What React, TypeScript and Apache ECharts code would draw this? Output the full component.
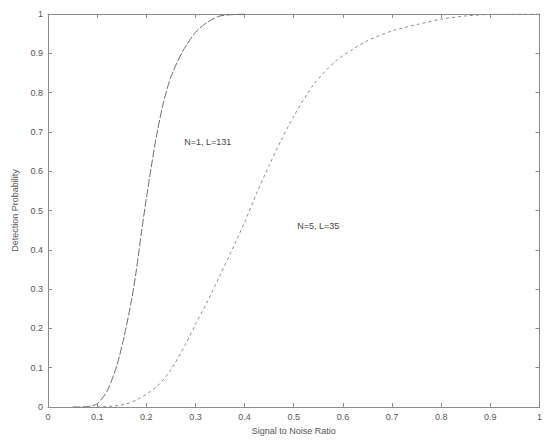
import React, { useEffect, useRef } from "react";
import * as echarts from "echarts";

const xTicks = [0, 0.1, 0.2, 0.3, 0.4, 0.5, 0.6, 0.7, 0.8, 0.9, 1];

const snrA = [0.05, 0.08, 0.1, 0.12, 0.14, 0.155, 0.17, 0.18, 0.19, 0.2, 0.21, 0.22, 0.234, 0.25, 0.274, 0.3, 0.322, 0.35, 0.4];
const pdA = [0, 0.001, 0.008, 0.04, 0.105, 0.18, 0.272, 0.35, 0.443, 0.53, 0.61, 0.685, 0.77, 0.84, 0.905, 0.953, 0.977, 0.995, 1];

const snrB = [0.1, 0.15, 0.18, 0.22, 0.25, 0.28, 0.3, 0.325, 0.35, 0.38, 0.4, 0.425, 0.45, 0.475, 0.5, 0.54, 0.585, 0.62, 0.65, 0.7, 0.75, 0.8, 0.85, 0.9, 1.0];
const pdB = [0, 0.005, 0.018, 0.05, 0.095, 0.16, 0.21, 0.27, 0.335, 0.415, 0.47, 0.545, 0.615, 0.68, 0.74, 0.82, 0.88, 0.91, 0.932, 0.957, 0.973, 0.987, 0.995, 0.999, 1];

const labelA = "N=1, L=131";
const labelAPos = [0.325, 0.674];
const labelB = "N=5, L=35";
const labelBPos = [0.55, 0.46];

const xName = "Signal to Noise Ratio";
const yName = "Detection Probability";

const fmt = (v: number) => (Math.abs(v - Math.round(v)) < 1e-9 ? String(Math.round(v)) : v.toFixed(1));

export default function App() {
  const ref = useRef<HTMLDivElement>(null);
  useEffect(() => {
    if (!ref.current) return;
    const chart = echarts.init(ref.current, undefined, { renderer: "svg" });
    const axisColor = "#8c8c8c";
    const font = "Liberation Sans, Arial, sans-serif";
    const baseAxis = (pos: string, showLabel: boolean, name?: string) => ({
      type: "value",
      position: pos,
      min: 0,
      max: 1,
      interval: 0.1,
      splitLine: { show: false },
      axisLine: { show: true, onZero: false, lineStyle: { color: axisColor, width: 1 } },
      axisTick: { show: true, inside: true, length: 4, lineStyle: { color: axisColor } },
      axisLabel: {
        show: showLabel,
        color: "#555",
        fontSize: 9,
        fontFamily: font,
        formatter: (v: number) => fmt(v),
        margin: 5,
      },
      name: name,
      nameLocation: "middle",
      nameTextStyle: { color: "#555", fontSize: 9, fontFamily: font },
    });
    chart.setOption({
      animation: false,
      backgroundColor: "#fff",
      grid: { left: 48, right: 4, top: 14, bottom: 35 },
      xAxis: [
        { ...baseAxis("bottom", true, xName), nameGap: 19 },
        baseAxis("top", false),
      ],
      yAxis: [
        { ...baseAxis("left", true, yName), nameGap: 22 },
        baseAxis("right", false),
      ],
      series: [
        {
          type: "line",
          data: snrA.map((x, i) => [x, pdA[i]]),
          showSymbol: false,
          smooth: 0.25,
          lineStyle: { color: "#6a6a7a", width: 1, type: [8, 2] },
          markPoint: {
            symbol: "circle",
            symbolSize: 0,
            data: [{ coord: labelAPos, value: labelA }],
            label: { show: true, formatter: labelA, color: "#444", fontSize: 9, fontFamily: font },
          },
        },
        {
          type: "line",
          data: snrB.map((x, i) => [x, pdB[i]]),
          showSymbol: false,
          smooth: 0.25,
          lineStyle: { color: "#8a8a8a", width: 1, type: [3, 3] },
          markPoint: {
            symbol: "circle",
            symbolSize: 0,
            data: [{ coord: labelBPos, value: labelB }],
            label: { show: true, formatter: labelB, color: "#444", fontSize: 9, fontFamily: font },
          },
        },
      ],
    });
    return () => chart.dispose();
  }, []);
  return <div ref={ref} style={{ position: "absolute", left: 0, top: 0, width: 545, height: 442 }} />;
}
